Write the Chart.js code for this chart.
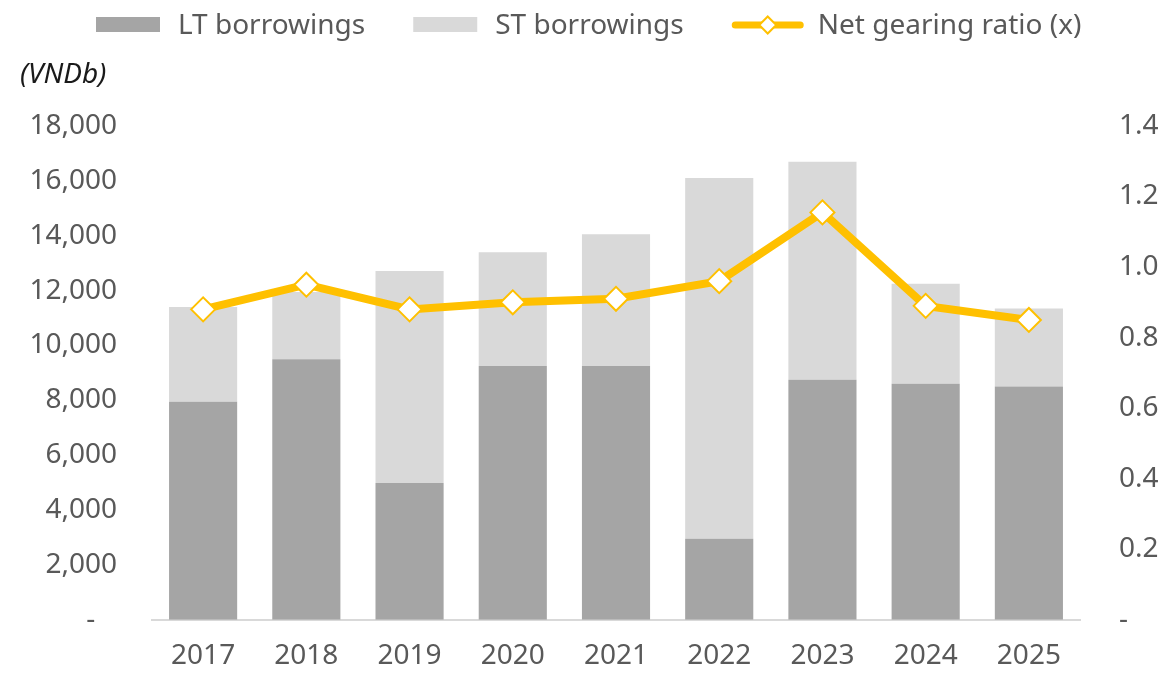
<!DOCTYPE html>
<html>
<head>
<meta charset="utf-8">
<title>Borrowings and net gearing</title>
<script src="https://cdn.jsdelivr.net/npm/chart.js@4.4.1/dist/chart.umd.min.js"></script>
<style>
    html, body { margin: 0; padding: 0; background: #ffffff; overflow: hidden; }
    #debtChart { display: block; }
</style>
</head>
<body>
<canvas id="debtChart" width="1166" height="675"></canvas>
<script>
// Years on the x axis
const years = ['2017', '2018', '2019', '2020', '2021', '2022', '2023', '2024', '2025'];

// Borrowings, VND bn (stacked bars)
const ltBorrowings = [7950, 9500, 4980, 9250, 9250, 2950, 8750, 8600, 8500];
const stBorrowings = [3450, 2450, 7730, 4150, 4800, 13150, 7950, 3650, 2850];

// Net gearing ratio, x (line on right axis)
const netGearing = [0.88, 0.95, 0.88, 0.90, 0.91, 0.96, 1.155, 0.89, 0.85];

// Axis ranges
const leftMax = 18000, leftStep = 2000;
const rightMax = 1.4, rightStep = 0.2;

const unitLabel = '(VNDb)';
const labelColor = '#595959';
const fontFamily = "'Noto Sans', 'Open Sans', sans-serif";

Chart.defaults.font.family = fontFamily;
Chart.defaults.font.size = 28;
Chart.defaults.color = labelColor;

// legend row + unit label drawn straight on the canvas
const headerPlugin = {
    id: 'header',
    afterDraw(chart) {
        const ctx = chart.ctx;
        const ds = chart.data.datasets;
        ctx.save();

        // unit label above the left axis
        ctx.font = `italic 28px ${fontFamily}`;
        ctx.fillStyle = '#1a1a1a';
        ctx.textAlign = 'left';
        ctx.textBaseline = 'middle';
        ctx.fillText(unitLabel, 20, 75);

        // legend: LT bar, ST bar, gearing line
        const items = [ds[1], ds[2], ds[0]];
        let x = 96;
        const midY = 25;
        ctx.font = `28px ${fontFamily}`;
        ctx.textBaseline = 'alphabetic';
        items.forEach(d => {
            if (d.type === 'line') {
                ctx.strokeStyle = d.borderColor;
                ctx.lineWidth = 7;
                ctx.lineCap = 'round';
                ctx.beginPath();
                ctx.moveTo(x + 3.5, midY);
                ctx.lineTo(x + 68.5, midY);
                ctx.stroke();
                // small diamond marker
                const r = 8.5;
                const cx = x + 36;
                ctx.beginPath();
                ctx.moveTo(cx, midY - r);
                ctx.lineTo(cx + r, midY);
                ctx.lineTo(cx, midY + r);
                ctx.lineTo(cx - r, midY);
                ctx.closePath();
                ctx.fillStyle = '#ffffff';
                ctx.fill();
                ctx.lineWidth = 2;
                ctx.strokeStyle = d.borderColor;
                ctx.stroke();
                x += 72 + 14;
            } else {
                ctx.fillStyle = d.backgroundColor;
                ctx.fillRect(x, midY - 8, 64, 15);
                x += 64 + 18;
            }
            ctx.fillStyle = labelColor;
            ctx.fillText(d.label, x, 34);
            x += ctx.measureText(d.label).width + 48;
        });
        ctx.restore();
    }
};

const ctx = document.getElementById('debtChart').getContext('2d');

new Chart(ctx, {
    data: {
        labels: years,
        datasets: [
            {
                type: 'line',
                label: 'Net gearing ratio (x)',
                data: netGearing,
                yAxisID: 'y1',
                borderColor: '#FFC000',
                borderWidth: 8,
                tension: 0,
                pointStyle: 'rectRot',
                pointRadius: 12,
                pointBackgroundColor: '#ffffff',
                pointBorderColor: '#FFC000',
                pointBorderWidth: 2,
                order: 0
            },
            {
                type: 'bar',
                label: 'LT borrowings',
                data: ltBorrowings,
                yAxisID: 'y',
                backgroundColor: '#A5A5A5',
                categoryPercentage: 1,
                barPercentage: 0.66,
                order: 1
            },
            {
                type: 'bar',
                label: 'ST borrowings',
                data: stBorrowings,
                yAxisID: 'y',
                backgroundColor: '#D9D9D9',
                categoryPercentage: 1,
                barPercentage: 0.66,
                order: 2
            }
        ]
    },
    options: {
        responsive: false,
        animation: false,
        devicePixelRatio: 1,
        layout: { padding: { top: 126, left: 20, right: 0, bottom: 0 } },
        plugins: {
            legend: { display: false },
            title: { display: false },
            tooltip: { enabled: false }
        },
        scales: {
            x: {
                stacked: true,
                grid: { display: false, drawTicks: false },
                border: { display: true, color: '#D9D9D9', width: 2 },
                ticks: { padding: 20, color: labelColor, font: { size: 28 } },
                afterFit(scale) { scale.height = 49.5; }
            },
            y: {
                stacked: true,
                position: 'left',
                min: 0,
                max: leftMax,
                grid: { display: false, drawTicks: false },
                border: { display: false },
                ticks: {
                    stepSize: leftStep,
                    padding: 34.5,
                    color: labelColor,
                    font: { size: 28 },
                    callback: v => v === 0 ? '-   ' : v.toLocaleString('en-US')
                },
                afterFit(scale) { scale.width = 131.5; }
            },
            y1: {
                position: 'right',
                min: 0,
                max: rightMax,
                grid: { display: false, drawTicks: false },
                border: { display: false },
                ticks: {
                    stepSize: rightStep,
                    padding: 38.5,
                    color: labelColor,
                    font: { size: 28 },
                    callback: v => v === 0 ? '-' : v.toFixed(1)
                },
                afterFit(scale) { scale.width = 85.5; }
            }
        }
    },
    plugins: [headerPlugin]
});
</script>
</body>
</html>
